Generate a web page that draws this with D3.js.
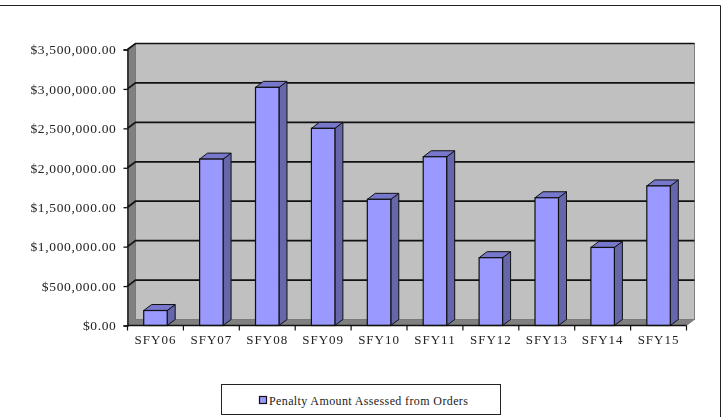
<!DOCTYPE html>
<html>
<head>
<meta charset="utf-8">
<script src="https://d3js.org/d3.v7.min.js"></script>
<style>
  html, body { margin:0; padding:0; background:#fff; }
  text { font-family:"Liberation Serif", serif; fill:#222; }
  svg { filter:blur(0.3px); }
</style>
</head>
<body>
<div class="chart"></div>
<script>
const categories = ["SFY06","SFY07","SFY08","SFY09","SFY10","SFY11","SFY12","SFY13","SFY14","SFY15"];
const penalty = [190000,2110000,3020000,2500000,1600000,2140000,860000,1620000,990000,1770000];
const yTicks = [0,500000,1000000,1500000,2000000,2500000,3000000,3500000];
const legendLabel = "Penalty Amount Assessed from Orders";

const w = 725, h = 417;
const dx = 8, dy = -6;   // depth of the 3d look

const svg = d3.select('.chart').append('svg')
    .attr('width', w).attr('height', h)
    .style('display', 'block');

const xScale = d3.scaleBand().domain(categories).range([127.5, 686.5]).paddingInner(0.58).paddingOuter(0.29);
const xEdge = d3.scaleLinear().domain([0, categories.length]).range([127.5, 686.5]);
const yScale = d3.scaleLinear().domain([0, 3500000]).range([325.5, 49.5]);

const x0 = xEdge(0), x1 = xEdge(categories.length);
const yB = yScale(0), yT = yScale(3500000);

// outer frame, only top and right are visible in the picture
svg.append('path').attr('d', `M0,5.5H720.5V417`).attr('fill', 'none').attr('stroke', '#222').attr('stroke-width', 1);

// walls
svg.append('path')
    .attr('d', `M${x0+dx},${yT+dy}H${x1+dx}V${yB+dy}H${x0+dx}Z`)
    .attr('fill', '#c0c0c0').attr('stroke', '#808080').attr('stroke-width', 1);
svg.append('path')
    .attr('d', `M${x0},${yT}L${x0+dx},${yT+dy}V${yB+dy}L${x0},${yB}Z`)
    .attr('fill', '#808080').attr('stroke', '#777').attr('stroke-width', 0.8);
svg.append('path')
    .attr('d', `M${x0},${yB}L${x0+dx},${yB+dy}H${x1+dx}L${x1},${yB}Z`)
    .attr('fill', '#808080').attr('stroke', '#777').attr('stroke-width', 0.8);

// grid lines run over the side wall and the back wall
svg.append('g').selectAll('path')
    .data(yTicks.slice(1))
    .join('path')
    .attr('d', d => `M${x0},${yScale(d)}L${x0+dx},${yScale(d)+dy}H${x1+dx}`)
    .attr('fill', 'none').attr('stroke', '#111').attr('stroke-width', 1.7);

// axes
const yAxis = d3.axisLeft(yScale).tickValues(yTicks).tickSizeOuter(0).tickSize(4)
    .tickFormat(d => '$' + d3.format(',.2f')(d));
const yG = svg.append('g').attr('transform', `translate(${x0},0)`).call(yAxis);
yG.selectAll('text').attr('font-size', 13.5).attr('x', -11).style('letter-spacing', '0.65px');
yG.selectAll('line, path').attr('stroke', '#111').attr('stroke-width', 1.3);

// bars
const bars = svg.append('g').selectAll('g').data(categories).join('g');
bars.append('path')
    .attr('d', (c, i) => {
        const l = xScale(c), r = l + xScale.bandwidth(), t = yScale(penalty[i]);
        return `M${r},${t}L${r+dx},${t+dy}V${yB+dy}L${r},${yB}Z`;
    })
    .attr('fill', '#6666aa').attr('stroke', '#111').attr('stroke-width', 1);
bars.append('path')
    .attr('d', (c, i) => {
        const l = xScale(c), r = l + xScale.bandwidth(), t = yScale(penalty[i]);
        return `M${l},${t}L${l+dx},${t+dy}H${r+dx}L${r},${t}Z`;
    })
    .attr('fill', '#7777cc').attr('stroke', '#111').attr('stroke-width', 1);
bars.append('rect')
    .attr('x', c => xScale(c))
    .attr('y', (c, i) => yScale(penalty[i]))
    .attr('width', xScale.bandwidth())
    .attr('height', (c, i) => yB - yScale(penalty[i]))
    .attr('fill', '#9999ff').attr('stroke', '#111').attr('stroke-width', 1.2);

// category axis on the front edge
const xAxis = d3.axisBottom(xScale).tickSize(0).tickPadding(9);
const xG = svg.append('g').attr('transform', `translate(0,${yB})`).call(xAxis);
xG.select('.domain').remove();
xG.selectAll('text').attr('font-size', 13).style('letter-spacing', '1px');
svg.append('line').attr('x1', x0).attr('x2', x1).attr('y1', yB).attr('y2', yB)
    .attr('stroke', '#111').attr('stroke-width', 1.3);
svg.append('g').selectAll('line')
    .data(d3.range(categories.length + 1))
    .join('line')
    .attr('x1', d => xEdge(d)).attr('x2', d => xEdge(d))
    .attr('y1', yB).attr('y2', yB + 5)
    .attr('stroke', '#111').attr('stroke-width', 1.2);

// legend
const lg = svg.append('g').attr('transform', 'translate(221.5,384.5)');
lg.append('rect').attr('width', 279).attr('height', 30)
    .attr('fill', '#fff').attr('stroke', '#222').attr('stroke-width', 1);
lg.append('rect').attr('x', 38).attr('y', 12).attr('width', 7).attr('height', 7)
    .attr('fill', '#9999ff').attr('stroke', '#111').attr('stroke-width', 1.2);
lg.append('text').attr('x', 47.5).attr('y', 20).attr('font-size', 12).style('letter-spacing', '0.38px').text(legendLabel);
</script>
</body>
</html>
